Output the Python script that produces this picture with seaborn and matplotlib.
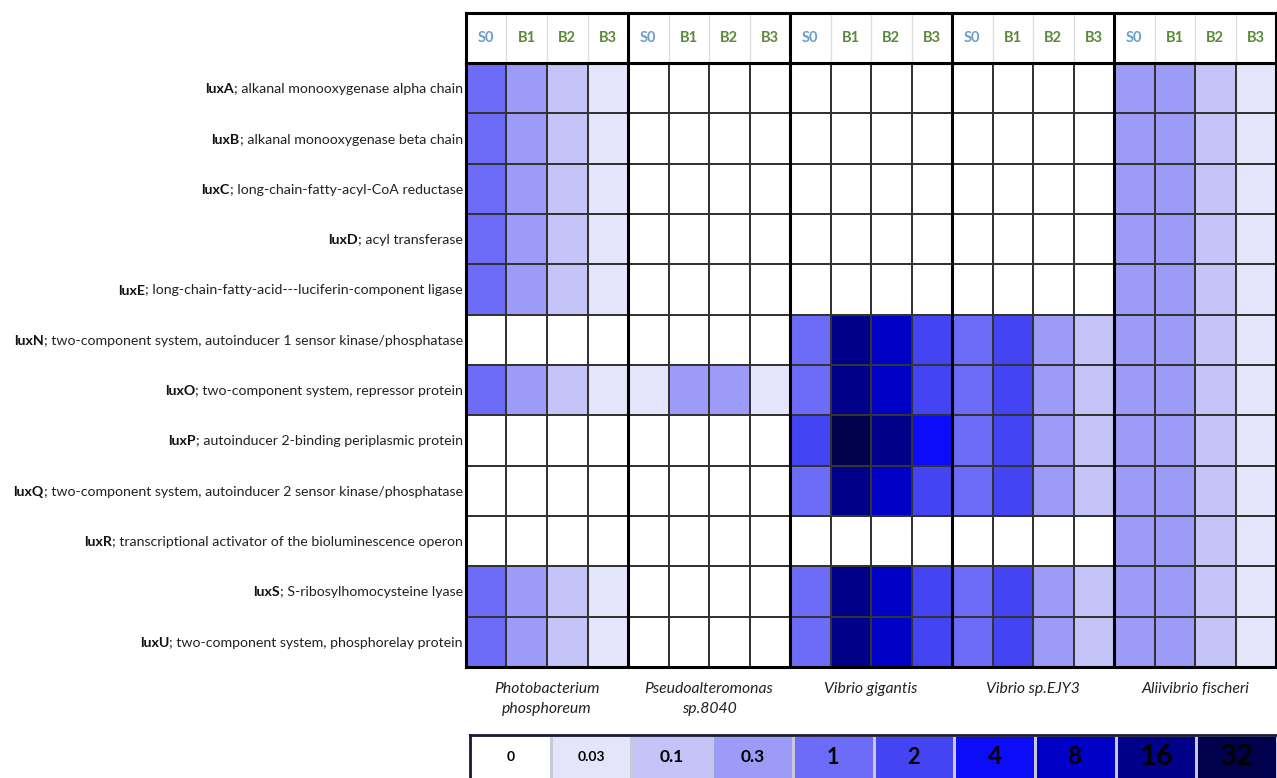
import numpy as np
import pandas as pd
import matplotlib
matplotlib.use("Agg")
import matplotlib.pyplot as plt
import seaborn as sns
from matplotlib.colors import ListedColormap

# gene rows (bold gene name + description)
genes = ["luxA", "luxB", "luxC", "luxD", "luxE", "luxN", "luxO", "luxP",
         "luxQ", "luxR", "luxS", "luxU"]
descriptions = [
    "; alkanal monooxygenase alpha chain",
    "; alkanal monooxygenase beta chain",
    "; long-chain-fatty-acyl-CoA reductase",
    "; acyl transferase",
    "; long-chain-fatty-acid---luciferin-component ligase",
    "; two-component system, autoinducer 1 sensor kinase/phosphatase",
    "; two-component system, repressor protein",
    "; autoinducer 2-binding periplasmic protein",
    "; two-component system, autoinducer 2 sensor kinase/phosphatase",
    "; transcriptional activator of the bioluminescence operon",
    "; S-ribosylhomocysteine lyase",
    "; two-component system, phosphorelay protein",
]

samples = ["S0", "B1", "B2", "B3"]
species = ["Photobacterium\nphosphoreum", "Pseudoalteromonas\nsp.8040",
           "Vibrio gigantis", "Vibrio sp.EJY3", "Aliivibrio fischeri"]

# values per species, rows = genes, columns = S0, B1, B2, B3
photobacterium = [
    [1, 0.3, 0.1, 0.03], [1, 0.3, 0.1, 0.03], [1, 0.3, 0.1, 0.03],
    [1, 0.3, 0.1, 0.03], [1, 0.3, 0.1, 0.03], [0, 0, 0, 0],
    [1, 0.3, 0.1, 0.03], [0, 0, 0, 0], [0, 0, 0, 0],
    [0, 0, 0, 0], [1, 0.3, 0.1, 0.03], [1, 0.3, 0.1, 0.03],
]
pseudoalteromonas = [
    [0, 0, 0, 0], [0, 0, 0, 0], [0, 0, 0, 0], [0, 0, 0, 0], [0, 0, 0, 0],
    [0, 0, 0, 0], [0.03, 0.3, 0.3, 0.03], [0, 0, 0, 0], [0, 0, 0, 0],
    [0, 0, 0, 0], [0, 0, 0, 0], [0, 0, 0, 0],
]
vibrio_gigantis = [
    [0, 0, 0, 0], [0, 0, 0, 0], [0, 0, 0, 0], [0, 0, 0, 0], [0, 0, 0, 0],
    [1, 16, 8, 2], [1, 16, 8, 2], [2, 32, 16, 4], [1, 16, 8, 2],
    [0, 0, 0, 0], [1, 16, 8, 2], [1, 16, 8, 2],
]
vibrio_ejy3 = [
    [0, 0, 0, 0], [0, 0, 0, 0], [0, 0, 0, 0], [0, 0, 0, 0], [0, 0, 0, 0],
    [1, 2, 0.3, 0.1], [1, 2, 0.3, 0.1], [1, 2, 0.3, 0.1], [1, 2, 0.3, 0.1],
    [0, 0, 0, 0], [1, 2, 0.3, 0.1], [1, 2, 0.3, 0.1],
]
aliivibrio = [[0.3, 0.3, 0.1, 0.03]] * 12

# colour scale
levels = [0, 0.03, 0.1, 0.3, 1, 2, 4, 8, 16, 32]
level_labels = ["0", "0.03", "0.1", "0.3", "1", "2", "4", "8", "16", "32"]
level_colors = ["#ffffff", "#e4e4fb", "#c4c4f8", "#9c9cf8", "#6c6cf8",
                "#4444f2", "#0c0cf8", "#0000c6", "#000088", "#00004c"]
label_sizes = [10, 10, 12.5, 12.5, 15.5, 15.5, 17.5, 17.5, 21, 21]

values = np.hstack([np.array(photobacterium), np.array(pseudoalteromonas),
                    np.array(vibrio_gigantis), np.array(vibrio_ejy3),
                    np.array(aliivibrio)])
idx = np.searchsorted(levels, values)
df = pd.DataFrame(idx, index=genes,
                  columns=[f"{s}_{g}" for g in range(5) for s in samples])

cmap = ListedColormap(level_colors)
sns.set_style("white")
plt.rcParams["font.family"] = ["Lato", "DejaVu Sans"]

W, H = 1277, 778
fig = plt.figure(figsize=(W / 100, H / 100), dpi=100)

x0, x1 = 466, 1276
ax = fig.add_axes([x0 / W, 1 - 667 / H, (x1 - x0) / W, 604 / H])
sns.heatmap(df, ax=ax, cmap=cmap, vmin=-0.5, vmax=len(levels) - 0.5,
            cbar=False, linewidths=1.2, linecolor="#333333",
            xticklabels=False, yticklabels=False)
for g in range(1, 5):
    ax.axvline(4 * g, color="black", lw=2.2)
for s in ax.spines.values():
    s.set_visible(True)
    s.set_color("black")
    s.set_linewidth(2.2)
ax.set_xlabel("")
ax.set_ylabel("")

# header row
hdr = fig.add_axes([x0 / W, 1 - 63 / H, (x1 - x0) / W, 50 / H])
hdr.set_xlim(0, 20)
hdr.set_ylim(0, 1)
hdr.set_xticks([])
hdr.set_yticks([])
for j in range(1, 20):
    if j % 4:
        hdr.axvline(j, color="#dddddd", lw=1)
    else:
        hdr.axvline(j, color="black", lw=2.2)
for s in hdr.spines.values():
    s.set_visible(True)
    s.set_color("black")
    s.set_linewidth(2.2)
for j in range(20):
    lab = samples[j % 4]
    hdr.text(j + 0.5, 0.5, lab, ha="center", va="center", fontsize=10.5,
             fontweight="bold", color="#6d9ec9" if lab == "S0" else "#5a8a3a")

# species names
for g, name in enumerate(species):
    ax.text(4 * g + 2, 12.3, name, ha="center", va="top", fontsize=11.3,
            style="italic", linespacing=1.5, color="#222222")

# row labels: normal description, then bold gene name before it
desc_texts = []
for i, d in enumerate(descriptions):
    t = ax.text(-0.08, i + 0.5, d, ha="right", va="center_baseline",
                fontsize=10.2, color="#222222")
    desc_texts.append(t)
fig.canvas.draw()
r = fig.canvas.get_renderer()
for i, t in enumerate(desc_texts):
    bb = t.get_window_extent(r)
    y = ax.transData.transform((0, i + 0.5))[1]
    fig.text(bb.x0 / W, y / H, genes[i], ha="right", va="center_baseline",
             fontsize=10.2, fontweight="bold", color="#111111")

# colour legend (runs off the bottom edge like the reference)
leg = fig.add_axes([470 / W, -12 / H, 807 / W, 55 / H])
sns.heatmap(pd.DataFrame([list(range(len(levels)))]), ax=leg, cmap=cmap,
            vmin=-0.5, vmax=len(levels) - 0.5, cbar=False, linewidths=0.8,
            linecolor="#c8c8d8", xticklabels=False, yticklabels=False)
for k, lab in enumerate(level_labels):
    leg.text(k + 0.5, 0.4, lab, ha="center", va="center",
             fontsize=label_sizes[k], fontweight="bold", color="black")
for side in ["top", "left"]:
    leg.spines[side].set_visible(True)
    leg.spines[side].set_color("#1a1a3a")
    leg.spines[side].set_linewidth(2)

fig.savefig("out.png", dpi=100)
